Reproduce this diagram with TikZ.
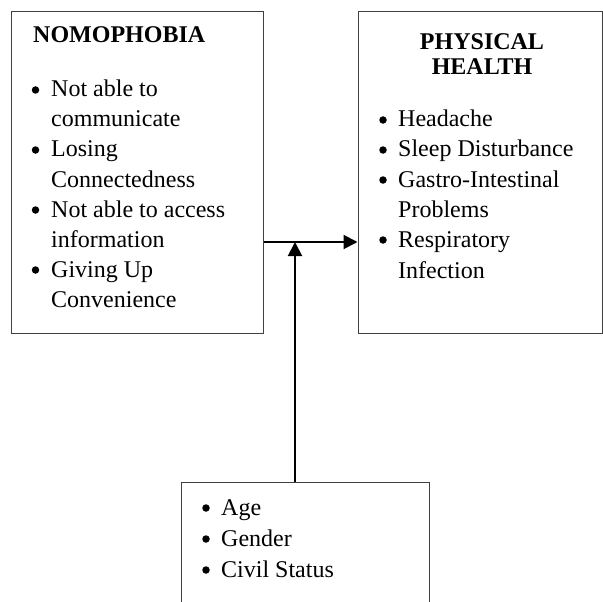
\documentclass[tikz,border=0pt]{standalone}
\usepackage{fontspec}
\setmainfont{Liberation Serif}
\usetikzlibrary{arrows.meta}
\definecolor{boxgray}{HTML}{404040}
\begin{document}
\begin{tikzpicture}[x=1pt,y=-1pt,
  box/.style={draw=boxgray,line width=1pt,inner sep=0pt},
  txt/.style={anchor=base west,inner sep=0pt,font=\fontsize{24}{30}\selectfont},
  head/.style={inner sep=0pt,font=\fontsize{24}{30}\selectfont\bfseries},
  bul/.style={circle,fill=black,inner sep=0pt,minimum size=7.5pt},
  conn/.style={line width=2pt,-{Triangle[length=14pt,width=14pt]}}]
\useasboundingbox (0,0) rectangle (603,602);
\clip (0,0) rectangle (603,602);
% boxes
\node[box,minimum width=252pt,minimum height=321pt] (nomo) at (137,172.5) {};
\node[box,minimum width=244pt,minimum height=321pt] (phys) at (480,172.5) {};
\node[box,minimum width=248pt,minimum height=160pt] (demo) at (305,562) {};
% left box text
\node[head,anchor=base west] (nh) at (33,43) {NOMOPHOBIA};
\foreach \y/\b/\t [count=\i] in {97/1/Not able to,127/0/communicate,157/1/Losing,187/0/Connectedness,217/1/Not able to access,247/0/information,277/1/Giving Up,307/0/Convenience}{
  \ifnum\b=1 \node[bul] (nb\i) at (35.5,\y-7) {};\fi
  \node[txt] (nt\i) at (51,\y) {\t};
}
% right box text
\node[head,anchor=base] (ph1) at (482,50) {PHYSICAL};
\node[head,anchor=base] (ph2) at (482,75) {HEALTH};
\foreach \y/\b/\t [count=\i] in {127/1/Headache,157/1/Sleep Disturbance,187/1/Gastro-Intestinal,217/0/Problems,247/1/Respiratory,278/0/Infection}{
  \ifnum\b=1 \node[bul] (pb\i) at (383,\y-7) {};\fi
  \node[txt] (pt\i) at (398,\y) {\t};
}
% bottom box text
\foreach \y/\t [count=\i] in {515/Age,546/Gender,577/Civil Status}{
  \node[bul] (db\i) at (206,\y-7) {};
  \node[txt] (dt\i) at (221,\y) {\t};
}
% connectors
\coordinate (j) at (295,242);
\draw[conn] (nomo.east |- j) -- (phys.west |- j);
\draw[conn] (demo.north -| j) -- (j);
\end{tikzpicture}
\end{document}
